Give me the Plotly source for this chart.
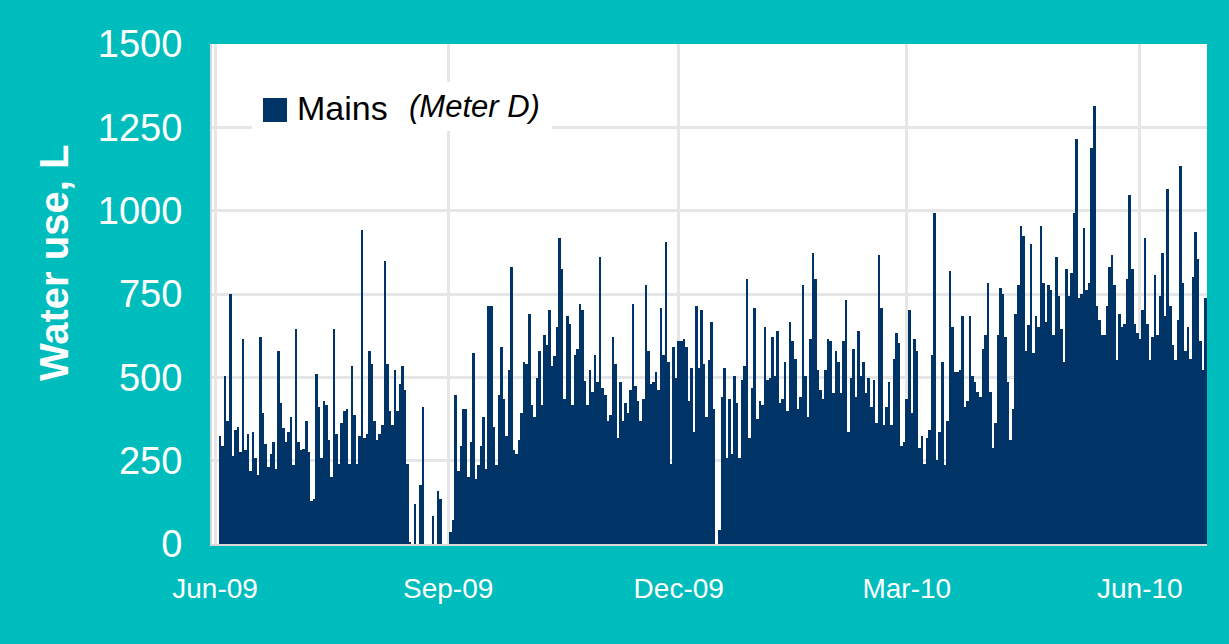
import pandas as pd
import plotly.graph_objects as go

# ---- data (daily mains water use, litres) ----
start_date = "2009-06-03"
water_use = [
    # Jun-Jul 2009
    324, 294, 504, 369, 750, 264, 342, 350, 277, 615, 282, 330, 220, 336, 258, 207, 620, 392, 300, 231,
    270, 306, 225, 578, 422, 348, 307, 337, 380, 237, 645, 307, 282, 285, 369, 275,
    130, 135, 510, 412, 258, 429, 418, 312, 202, 645, 331, 240, 364, 399, 405, 240, 534, 387, 240, 324,
    942, 319, 331, 579, 540, 369, 312, 330, 358, 849, 540, 399, 357, 522, 399, 480, 534, 462, 240,
    # Aug-Sep 2009
    7, 0, 120, 0, 177, 411, 0, 0, 0, 84, 0, 159, 135, 0, 0, 0, 36, 72, 447, 220,
    294, 405, 405, 201, 306, 573, 195, 237, 294, 381, 225, 714, 714, 351, 237, 447, 591, 435, 324, 522,
    832, 282, 270, 312, 393, 546, 540, 690, 417, 381, 498, 579, 417, 627, 597, 702, 534, 564, 651, 918,
    825, 435, 684, 660, 417, 567, 585, 720, 702, 489, 417, 522, 456, 567, 486, 861, 468, 447, 369,
    # Nov-Dec 2009
    387, 621, 540, 318, 486, 369, 423, 393, 462, 720, 474, 429, 369, 435, 777, 579, 480, 486, 516, 462,
    708, 567, 906, 546, 240, 591, 498, 609, 609, 615, 591, 429, 528, 336, 714, 528, 702, 540, 381, 552,
    666, 405, 0, 42, 441, 528, 258, 435, 270, 504, 423, 258, 492, 534, 795, 318, 468, 708, 375, 429,
    417, 651, 492, 498, 621, 504, 639, 423, 435, 546, 399, 666, 609, 555, 405, 441, 777, 504, 381,
    # Feb-Mar 2010
    615, 873, 795, 522, 462, 435, 522, 615, 609, 453, 579, 546, 453, 609, 732, 336, 498, 585, 441, 639,
    504, 546, 453, 498, 411, 492, 363, 867, 708, 357, 411, 486, 357, 555, 633, 603, 294, 306, 435, 702,
    393, 615, 579, 288, 324, 240, 318, 342, 567, 993, 252, 336, 546, 237, 369, 819, 651, 516, 516, 522,
    684, 411, 429, 684, 504, 486, 456, 441, 585, 627, 783, 456, 288, 363, 627, 768, 750, 621, 486, 312,
    # Apr-Jun 2010
    405, 690, 777, 954, 924, 579, 657, 900, 573, 684, 651, 954, 783, 666, 777, 762, 627, 861, 744, 645,
    546, 825, 744, 813, 993, 1215, 738, 750, 948, 762, 783, 1188, 1314, 714, 672, 627, 627, 714, 831,
    867, 777, 552, 690, 651, 660, 795, 1047, 825, 660, 633, 615, 702, 918, 660, 552, 621, 807, 627, 744,
    873, 684, 1065, 714, 597, 552, 672, 1134, 783, 579, 651, 555, 801, 936, 855, 609, 522, 738,
]

tick_dates = ["2009-06-01", "2009-09-01", "2009-12-01", "2010-03-01", "2010-06-01"]
tick_labels = ["Jun-09", "Sep-09", "Dec-09", "Mar-10", "Jun-10"]
y_ticks = [0, 250, 500, 750, 1000, 1250, 1500]
series_name = "Mains"
meter_label = "(Meter D)"
y_title = "Water use, L"

dates = pd.date_range(start_date, periods=len(water_use), freq="D")

TEAL = "#00BDBD"
NAVY = "#003366"
GRID = "#E6E6E6"
FONT = "Liberation Sans, Arial, sans-serif"

fig = go.Figure(
    go.Bar(
        x=dates,
        y=water_use,
        name=series_name,
        width=86400000,
        marker=dict(color=NAVY, line=dict(width=0)),
        showlegend=False,
    )
)

L, R, T, B = 212, 22, 44, 100
W, H = 1229, 644
pw, ph = W - L - R, H - T - B


def px(x):
    return (x - L) / pw


def py(y):
    return (H - B - y) / ph


fig.update_layout(
    width=W,
    height=H,
    margin=dict(l=L, r=R, t=T, b=B, pad=0),
    paper_bgcolor=TEAL,
    plot_bgcolor="white",
    bargap=0,
    font=dict(family=FONT, color="white"),
    xaxis=dict(
        type="date",
        range=["2009-05-30 19:00", "2010-06-27 12:00"],
        tickvals=tick_dates,
        ticktext=tick_labels,
        tickfont=dict(size=28, color="white", family=FONT),
        showgrid=True,
        gridcolor=GRID,
        gridwidth=3,
        ticks="",
        ticklabelstandoff=18,
        showline=True,
        linecolor="#D8D8D8",
        linewidth=2,
        zeroline=False,
    ),
    yaxis=dict(
        range=[0, 1500],
        tickvals=y_ticks,
        tickfont=dict(size=38, color="white", family=FONT),
        showgrid=True,
        gridcolor=GRID,
        gridwidth=3,
        ticks="",
        ticklabelstandoff=20,
        showline=True,
        linecolor="#D8D8D8",
        linewidth=2,
        zeroline=False,
    ),
    shapes=[
        dict(type="rect", xref="paper", yref="paper", x0=px(252), x1=px(552), y0=py(131), y1=py(82),
             fillcolor="white", line=dict(width=0), layer="above"),
        dict(type="rect", xref="paper", yref="paper", x0=px(263), x1=px(287), y0=py(122), y1=py(98),
             fillcolor=NAVY, line=dict(width=0), layer="above"),
    ],
    annotations=[
        dict(text="<b>" + y_title + "</b>", xref="paper", yref="paper", x=px(54), y=py(263),
             xanchor="center", yanchor="middle", textangle=-90, showarrow=False,
             font=dict(size=40, color="white", family=FONT)),
        dict(text=series_name, xref="paper", yref="paper", x=px(295), y=py(108), xanchor="left", yanchor="middle",
             showarrow=False, font=dict(size=34, color="black", family=FONT)),
        dict(text="<i>" + meter_label + "</i>", xref="paper", yref="paper", x=px(407), y=py(106),
             xanchor="left", yanchor="middle", showarrow=False, font=dict(size=31, color="black", family=FONT)),
    ],
)

fig.write_html(
    "out.html",
    config={"displayModeBar": False},
    post_script="document.body.style.margin='0';document.body.style.overflow='hidden';",
)
